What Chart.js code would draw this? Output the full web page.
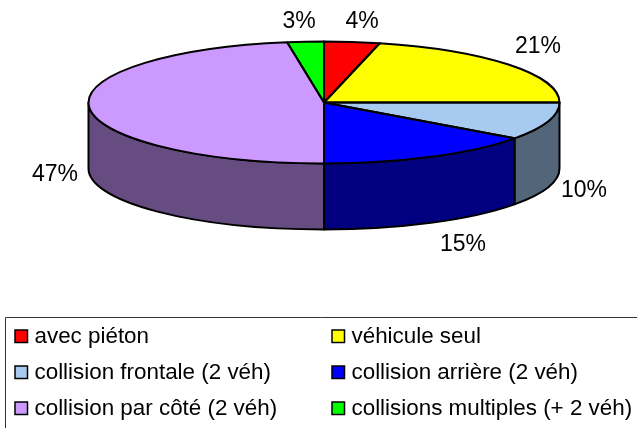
<!DOCTYPE html>
<html><head><meta charset="utf-8">
<style>html,body{margin:0;padding:0;background:#fff}#w{position:relative;width:637px;height:428px;overflow:hidden}canvas{display:block}</style>
<script src="https://cdn.jsdelivr.net/npm/chart.js@4"></script></head>
<body><div id="w"><canvas id="c" width="637" height="428"></canvas></div>
<script>
const categories=["avec piéton","véhicule seul","collision frontale (2 véh)","collision arrière (2 véh)","collision par côté (2 véh)","collisions multiples (+ 2 véh)"];
const values=[3.8,21.2,10,15,47.5,2.5];
const topColors=["#FF0000","#FFFF00","#A6CAF0","#0000FF","#CC99FF","#00FF00"];
const wallColors=["#800000","#808000","#536578","#000080","#664C80","#008000"];
const tickLabels=["4%","21%","10%","15%","47%","3%"];
const labelPos=[[362,22],[538,47],[584,191],[463,245],[55,175],[299,22]];
const legendPos=[[15,336],[332,336],[15,372],[332,372],[15,408],[332,408]];
const CX=324,CY=102.5,RX=235.5,RY=61,DEPTH=66;
const FONT='Liberation Sans, Arial, sans-serif';
const flat={
 id:'flat',
 beforeDatasetsDraw(chart){
  const ctx=chart.ctx,arcs=chart.getDatasetMeta(0).data;
  ctx.save();ctx.lineWidth=2;ctx.strokeStyle='#000';ctx.lineJoin='round';
  arcs.forEach((a,i)=>{
   const s=Math.max(a.startAngle,0),e=Math.min(a.endAngle,Math.PI);
   if(e<=s)return;
   ctx.beginPath();
   ctx.ellipse(CX,CY,RX,RY,0,s,e);
   ctx.ellipse(CX,CY+DEPTH,RX,RY,0,e,s,true);
   ctx.closePath();
   ctx.fillStyle=wallColors[i];ctx.fill();ctx.stroke();
  });
  ctx.restore();
 },
 beforeDatasetDraw(chart){
  const ctx=chart.ctx,a=chart.getDatasetMeta(0).data[0];
  ctx.save();
  ctx.translate(CX,CY);ctx.scale(RX/a.outerRadius,RY/a.outerRadius);ctx.translate(-a.x,-a.y);
 },
 afterDatasetDraw(chart){
  const ctx=chart.ctx,arcs=chart.getDatasetMeta(0).data;
  ctx.restore();
  ctx.save();ctx.lineWidth=2;ctx.strokeStyle='#000';ctx.lineJoin='round';
  arcs.forEach(a=>{
   ctx.beginPath();ctx.moveTo(CX,CY);
   ctx.ellipse(CX,CY,RX,RY,0,a.startAngle,a.endAngle);
   ctx.closePath();ctx.stroke();
  });
  ctx.restore();
 },
 afterDraw(chart){
  const ctx=chart.ctx;
  ctx.save();
  ctx.fillStyle='#000';ctx.textBaseline='middle';ctx.textAlign='center';
  ctx.font='23px '+FONT;
  tickLabels.forEach((t,i)=>ctx.fillText(t,labelPos[i][0],labelPos[i][1]));
  ctx.strokeStyle='#333';ctx.lineWidth=1;
  ctx.beginPath();ctx.moveTo(5.5,440);ctx.lineTo(5.5,317.5);ctx.lineTo(640,317.5);ctx.stroke();
  ctx.textAlign='left';ctx.font='22.4px '+FONT;
  categories.forEach((t,i)=>{
   const [x,y]=legendPos[i];
   ctx.fillStyle=topColors[i];ctx.fillRect(x,y-6,12.5,12.5);
   ctx.strokeStyle='#000';ctx.lineWidth=1.5;ctx.strokeRect(x,y-6,12.5,12.5);
   ctx.fillStyle='#000';ctx.fillText(t,x+19.5,y+1);
  });
  ctx.restore();
 }
};
new Chart(document.getElementById('c'),{
 type:'pie',
 data:{labels:categories,datasets:[{data:values,backgroundColor:topColors,borderWidth:0,clip:false}]},
 options:{responsive:false,animation:false,
  layout:{padding:{left:120,right:120,top:10,bottom:20}},
  plugins:{legend:{display:false},tooltip:{enabled:false}}},
 plugins:[flat]
});
</script></body></html>
